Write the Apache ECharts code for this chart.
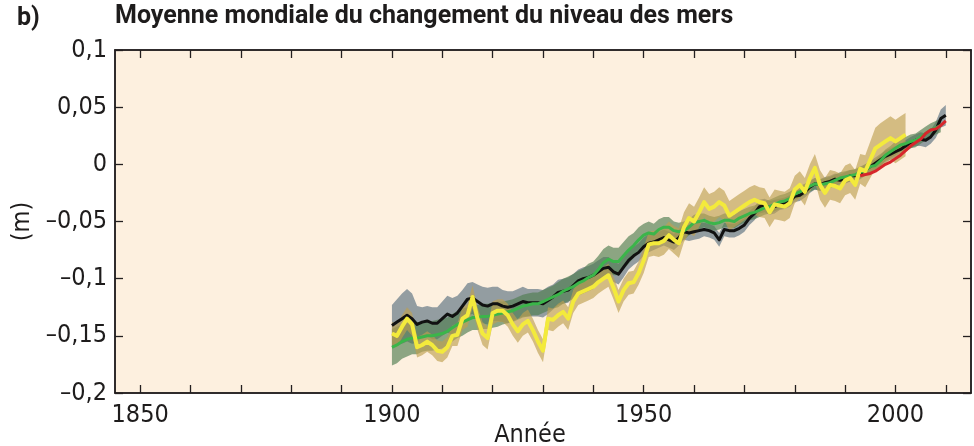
<!DOCTYPE html>
<html><head><meta charset="utf-8">
<script src="https://cdn.jsdelivr.net/npm/echarts@6/dist/echarts.min.js"></script>
<style>html,body{margin:0;padding:0;background:#fff}#c{width:974px;height:446px}</style>
</head><body><div id="c"></div>
<script>
// ---- tick labels ----
const xTickValues = [1850,1860,1870,1880,1890,1900,1910,1920,1930,1940,1950,1960,1970,1980,1990,2000,2010];
const xLabelValues = [1850,1900,1950,2000];
const yTickValues = [-0.2,-0.15,-0.1,-0.05,0,0.05,0.1];

// ---- series (m), annual ----
const blackStart = 1900;
const blackValues = [
-0.141,-0.138,-0.135,-0.132,-0.135,-0.140,-0.138,-0.137,-0.139,-0.139,
-0.135,-0.131,-0.133,-0.130,-0.124,-0.118,-0.117,-0.120,-0.123,-0.124,
-0.122,-0.122,-0.124,-0.125,-0.124,-0.122,-0.120,-0.121,-0.121,-0.121,
-0.122,-0.119,-0.116,-0.112,-0.111,-0.110,-0.106,-0.102,-0.100,-0.099,
-0.097,-0.094,-0.091,-0.090,-0.094,-0.096,-0.090,-0.084,-0.080,-0.077,
-0.072,-0.069,-0.068,-0.066,-0.064,-0.066,-0.068,-0.064,-0.059,-0.060,
-0.059,-0.058,-0.057,-0.058,-0.060,-0.066,-0.057,-0.058,-0.058,-0.056,
-0.053,-0.047,-0.043,-0.037,-0.036,-0.038,-0.037,-0.035,-0.034,-0.032,
-0.028,-0.027,-0.024,-0.020,-0.017,-0.018,-0.016,-0.015,-0.013,-0.014,
-0.012,-0.010,-0.010,-0.008,-0.005,-0.002,0.001,0.004,0.007,0.009,
0.011,0.013,0.016,0.019,0.021,0.022,0.021,0.024,0.030,0.040,0.043];
const blackHalfWidth = [
0.018,0.020,0.022,0.023,0.022,0.016,0.013,0.013,0.014,0.014,
0.015,0.016,0.016,0.015,0.014,0.014,0.014,0.015,0.016,0.016,
0.015,0.015,0.014,0.014,0.013,0.013,0.013,0.012,0.012,0.012,
0.012,0.012,0.011,0.011,0.011,0.011,0.010,0.010,0.010,0.010,
0.010,0.010,0.010,0.009,0.009,0.009,0.009,0.008,0.008,0.008,
0.008,0.008,0.007,0.007,0.007,0.007,0.007,0.007,0.007,0.007,
0.007,0.007,0.006,0.006,0.006,0.006,0.006,0.006,0.006,0.006,
0.006,0.006,0.006,0.006,0.006,0.006,0.006,0.005,0.005,0.005,
0.005,0.005,0.005,0.005,0.005,0.005,0.005,0.005,0.005,0.005,
0.005,0.005,0.005,0.005,0.005,0.005,0.005,0.005,0.005,0.005,
0.005,0.005,0.005,0.005,0.005,0.006,0.006,0.006,0.007,0.008,0.009];

const greenStart = 1900;
const greenValues = [
-0.160,-0.158,-0.155,-0.153,-0.152,-0.152,-0.151,-0.150,-0.150,-0.149,
-0.148,-0.146,-0.143,-0.140,-0.138,-0.136,-0.134,-0.134,-0.133,-0.133,
-0.132,-0.131,-0.130,-0.129,-0.128,-0.126,-0.124,-0.123,-0.122,-0.122,
-0.120,-0.118,-0.116,-0.114,-0.111,-0.109,-0.107,-0.104,-0.102,-0.099,
-0.097,-0.092,-0.086,-0.083,-0.085,-0.085,-0.080,-0.075,-0.071,-0.066,
-0.062,-0.060,-0.061,-0.057,-0.055,-0.055,-0.058,-0.059,-0.058,-0.055,
-0.051,-0.050,-0.049,-0.051,-0.052,-0.051,-0.049,-0.049,-0.050,-0.047,
-0.045,-0.043,-0.042,-0.040,-0.038,-0.037,-0.035,-0.033,-0.032,-0.030,
-0.026,-0.024,-0.022,-0.019,-0.017,-0.018,-0.017,-0.016,-0.014,-0.012,
-0.011,-0.010,-0.009,-0.007,-0.005,-0.002,-0.001,0.003,0.008,0.011,
0.014,0.017,0.018,0.020,0.021,0.024,0.027,0.030,0.032,0.034];
const greenHalfWidth = [
0.016,0.016,0.015,0.015,0.014,0.014,0.013,0.013,0.013,0.013,
0.013,0.012,0.012,0.012,0.012,0.011,0.011,0.011,0.011,0.011,
0.011,0.011,0.010,0.010,0.010,0.010,0.010,0.010,0.010,0.010,
0.010,0.010,0.010,0.011,0.011,0.011,0.011,0.011,0.011,0.012,
0.012,0.012,0.012,0.012,0.012,0.012,0.012,0.012,0.011,0.011,
0.010,0.010,0.009,0.009,0.009,0.009,0.008,0.008,0.008,0.007,
0.007,0.007,0.006,0.006,0.006,0.006,0.006,0.006,0.006,0.006,
0.006,0.006,0.006,0.006,0.006,0.006,0.006,0.006,0.006,0.006,
0.005,0.005,0.005,0.005,0.005,0.005,0.005,0.005,0.005,0.005,
0.005,0.005,0.005,0.005,0.005,0.005,0.005,0.005,0.005,0.005,
0.006,0.006,0.006,0.006,0.006,0.006,0.006,0.006,0.006,0.006];

const yellowStart = 1900;
const yellowValues = [
-0.148,-0.150,-0.142,-0.135,-0.140,-0.160,-0.158,-0.155,-0.158,-0.163,
-0.164,-0.160,-0.150,-0.149,-0.135,-0.132,-0.116,-0.135,-0.148,-0.152,
-0.130,-0.128,-0.128,-0.132,-0.140,-0.146,-0.140,-0.137,-0.145,-0.155,
-0.163,-0.135,-0.136,-0.132,-0.129,-0.135,-0.120,-0.113,-0.111,-0.109,
-0.107,-0.103,-0.100,-0.097,-0.108,-0.120,-0.110,-0.104,-0.103,-0.095,
-0.084,-0.070,-0.069,-0.069,-0.067,-0.062,-0.066,-0.069,-0.055,-0.047,
-0.050,-0.042,-0.033,-0.039,-0.037,-0.033,-0.036,-0.045,-0.042,-0.039,
-0.036,-0.033,-0.031,-0.033,-0.034,-0.042,-0.035,-0.036,-0.037,-0.034,
-0.022,-0.018,-0.024,-0.012,-0.003,-0.018,-0.025,-0.018,-0.019,-0.021,
-0.014,-0.012,-0.018,-0.004,-0.006,0.004,0.014,0.017,0.020,0.023,
0.020,0.023,0.026];
const yellowHalfWidth = [
0.010,0.010,0.010,0.010,0.010,0.009,0.009,0.009,0.009,0.009,
0.009,0.009,0.009,0.010,0.010,0.010,0.010,0.010,0.010,0.010,
0.010,0.010,0.010,0.010,0.010,0.010,0.010,0.010,0.010,0.010,
0.010,0.010,0.010,0.010,0.010,0.010,0.010,0.010,0.010,0.010,
0.010,0.010,0.010,0.010,0.010,0.010,0.010,0.010,0.010,0.010,
0.011,0.011,0.011,0.012,0.012,0.012,0.012,0.013,0.013,0.013,
0.013,0.013,0.013,0.013,0.013,0.013,0.013,0.013,0.013,0.013,
0.013,0.013,0.013,0.013,0.013,0.013,0.013,0.013,0.013,0.013,
0.012,0.012,0.012,0.012,0.012,0.013,0.013,0.013,0.013,0.013,
0.013,0.013,0.013,0.013,0.014,0.016,0.018,0.019,0.019,0.019,
0.019,0.019,0.019];

const redStart = 1993;
const redValues = [
-0.010,-0.009,-0.008,-0.006,-0.003,0.000,0.002,0.005,0.008,0.012,
0.016,0.019,0.022,0.027,0.030,0.031,0.034,0.038];

// ---- helpers ----
function toPairs(start, vals){ return vals.map((v,i)=>[start+i, v]); }
function band(start, center, half, color){
  const upper = center.map((v,i)=>[start+i, v+half[i]]);
  const lower = center.map((v,i)=>[start+i, v-half[i]]);
  return {
    type:'custom', silent:true, clip:true, z:1,
    data:[[start, center[0]]],
    renderItem:function(params, api){
      const pts = upper.map(p=>api.coord(p)).concat(lower.slice().reverse().map(p=>api.coord(p)));
      return {type:'polygon', shape:{points:pts}, style:{fill:color}};
    }
  };
}
function line(start, vals, color, width, z){
  return {type:'line', data:toPairs(start, vals), symbol:'none', showSymbol:false, silent:true,
    z:z, lineStyle:{color:color, width:width, join:'round'}, animation:false};
}
function fmtY(v){
  const r = Math.round(v*100)/100;
  return String(r).replace('.', ',').replace('-', '\u2013');
}

const TXT = '#1e1c1c';
const FRAME = '#231f20';
const LABEL_FONT = "'Liberation Sans Narrow','DejaVu Sans Condensed',sans-serif";

const chart = echarts.init(document.getElementById('c'), null, {renderer:'canvas'});
chart.setOption({
  animation:false,
  backgroundColor:'#ffffff',
  grid:{left:115, right:3, top:50, bottom:53, show:true, backgroundColor:'#fdf0df',
        borderColor:FRAME, borderWidth:1.5},
  graphic:[
    {type:'text', left:17, top:6, style:{text:'b)', font:"bold 25px Roboto", fill:TXT}},
    {type:'text', x:294, y:5, style:{text:'Année', font:"25px "+LABEL_FONT, fill:TXT, align:'center', verticalAlign:'bottom'}},
    {type:'text', x:530, y:448, style:{text:'Année', font:"25px "+LABEL_FONT, fill:TXT, align:'center', verticalAlign:'bottom'}}
  ],
  title:{text:'Moyenne mondiale du changement du niveau des mers', left:115, top:4, padding:0,
    textStyle:{fontFamily:'Roboto', fontWeight:'bold', fontSize:25, color:TXT}},
  xAxis:[
    {type:'value', min:1845, max:2015, position:'bottom',
     axisLine:{show:true, onZero:false, lineStyle:{color:FRAME, width:1.5}},
     axisTick:{show:true, inside:true, length:8, customValues:xTickValues, lineStyle:{color:FRAME, width:1.3}},
     axisLabel:{show:true, customValues:xLabelValues, formatter:function(v){return String(v);}, margin:10, fontSize:25, fontFamily:LABEL_FONT, color:TXT},
     splitLine:{show:false}},
    {type:'value', min:1845, max:2015, position:'top',
     axisLine:{show:true, onZero:false, lineStyle:{color:FRAME, width:1.5}},
     axisTick:{show:true, inside:true, length:8, customValues:xTickValues, lineStyle:{color:FRAME, width:1.3}},
     axisLabel:{show:false}, splitLine:{show:false}}
  ],
  yAxis:[
    {type:'value', min:-0.2, max:0.1, interval:0.05, position:'left',
     name:'(m)', nameLocation:'middle', nameGap:72, nameRotate:90,
     nameTextStyle:{fontSize:25, fontFamily:LABEL_FONT, color:TXT},
     axisLine:{show:true, onZero:false, lineStyle:{color:FRAME, width:1.5}},
     axisTick:{show:true, inside:true, length:8, customValues:yTickValues, lineStyle:{color:FRAME, width:1.3}},
     axisLabel:{show:true, customValues:yTickValues, formatter:fmtY, margin:8, fontSize:25, fontFamily:LABEL_FONT, color:TXT},
     splitLine:{show:false}},
    {type:'value', min:-0.2, max:0.1, interval:0.05, position:'right',
     axisLine:{show:true, onZero:false, lineStyle:{color:FRAME, width:1.5}},
     axisTick:{show:true, inside:true, length:8, customValues:yTickValues, lineStyle:{color:FRAME, width:1.3}},
     axisLabel:{show:false}, splitLine:{show:false}}
  ],
  series:[
    band(blackStart, blackValues, blackHalfWidth, 'rgba(128,142,150,0.85)'),
    band(greenStart, greenValues, greenHalfWidth, 'rgba(80,125,80,0.65)'),
    band(yellowStart, yellowValues, yellowHalfWidth, 'rgba(190,160,80,0.65)'),
    line(blackStart, blackValues, '#111111', 3, 3),
    line(greenStart, greenValues, '#3bb54a', 3, 4),
    line(yellowStart, yellowValues, '#f3ea3c', 4, 5),
    line(redStart, redValues, '#d7262b', 3, 6)
  ]
});
</script>
</body></html>
